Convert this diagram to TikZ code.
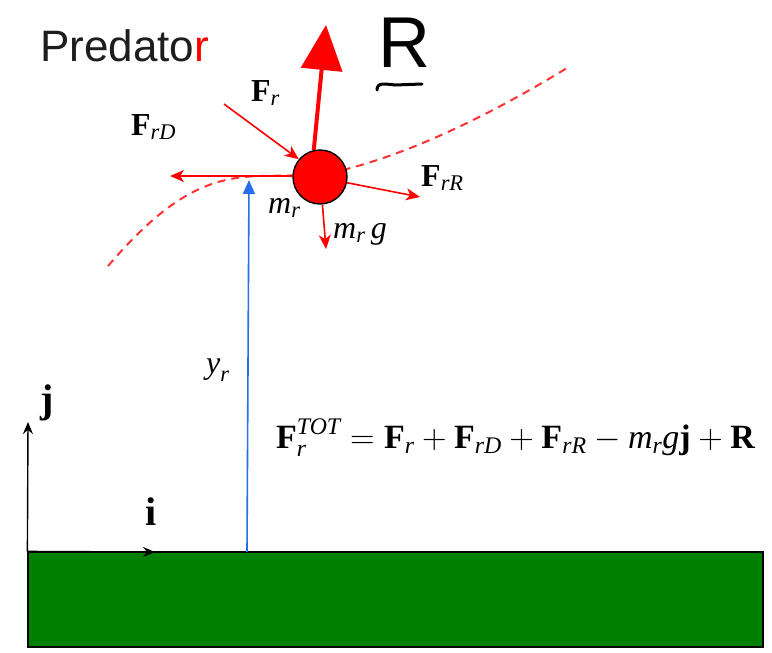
\documentclass[tikz,border=0pt]{standalone}
\usepackage{fix-cm}
\usepackage{amsmath}
\usepackage{fontspec}
\setmainfont{Liberation Serif}
\newfontfamily\arialfont{Liberation Sans}
\usetikzlibrary{arrows.meta}
\definecolor{groundgreen}{RGB}{0,128,0}
\definecolor{blueline}{RGB}{40,110,235}
\definecolor{dashred}{RGB}{255,50,50}
\definecolor{titlegray}{RGB}{30,30,30}
\begin{document}
\begin{tikzpicture}[x=1pt,y=-1pt,
  lbl/.style={inner sep=0pt, anchor=base west, font=\fontsize{32}{36}\selectfont},
  redarrow/.style={red, line width=1.6pt, -{Stealth[length=14pt,width=12pt,inset=4pt]}},
  axisarrow/.style={black, line width=1.4pt, -{Stealth[length=12pt,width=10pt,inset=4pt]}}
]
\useasboundingbox (0,0) rectangle (772,653);
% ground
\node[draw=black, line width=1.2pt, fill=groundgreen, minimum width=735pt, minimum height=95pt, inner sep=0pt] (ground) at (395.5,599.5) {};
% axes
\coordinate (O) at (ground.north west);
\coordinate (jtip) at (28,422);
\coordinate (itip) at (155,552);
\draw[axisarrow] (O) -- (jtip);
\draw[axisarrow] (O) -- (itip);
\node[inner sep=0pt, anchor=base west, font=\fontsize{40}{44}\selectfont] (jlbl) at (40,412) {\textbf{j}};
\node[inner sep=0pt, anchor=base west, font=\fontsize{40}{44}\selectfont] (ilbl) at (145,525) {\textbf{i}};
% height arrow
\coordinate (ybase) at (247,552);
\coordinate (ytip) at (249,180);
\draw[blueline, line width=1.6pt, -{Triangle[length=14pt,width=12pt]}] (ybase) -- (ytip);
\node[lbl] (ylbl) at (206,373) {$\textit{y}_{\textit{r}}$};
% trajectory
\draw[dashred, line width=2pt, dash pattern=on 8pt off 6pt] (108,266) .. controls (165,200) and (205,177) .. (260,176) -- (320,175) .. controls (400,160) and (490,115) .. (567,68);
% predator body
\node[circle, draw=black, line width=1.4pt, fill=red, minimum size=54pt, inner sep=0pt] (pred) at (320,177) {};
% forces
\coordinate (Rtip) at (326,25);
\draw[red, line width=4pt, -{Triangle[length=45pt,width=41pt]}] (pred.103) -- (Rtip);
\coordinate (Frs) at (224,104);
\draw[redarrow] (Frs) -- (pred.140);
\coordinate (FrDtip) at (170,176);
\draw[redarrow] (pred.178) -- (FrDtip);
\coordinate (FrRtip) at (420,197);
\draw[redarrow] (pred.-12) -- (FrRtip);
\coordinate (mgtip) at (326,249);
\draw[redarrow] (pred.-85) -- (mgtip);
% labels
\node[lbl] (lFr) at (251,101) {$\textbf{F}_{\textit{r}}$};
\node[lbl] (lFrD) at (131,135) {$\textbf{F}_{\textit{rD}}$};
\node[lbl] (lFrR) at (421,186) {$\textbf{F}_{\textit{rR}}$};
\node[lbl] (lmr) at (268,213) {$\textit{m}_{\textit{r}}$};
\node[lbl] (lmg) at (333,238) {$\textit{m}_{\textit{r}}\,\textit{g}$};
% title
\node[inner sep=0pt, anchor=base west, font=\arialfont\fontsize{44}{50}\selectfont, text=titlegray] (title) at (40,61) {Predato\textcolor{red}{r}};
% handwritten R
\node[inner sep=0pt, anchor=base west, font=\arialfont\fontsize{72}{80}\selectfont] (Rlbl) at (378,67) {R};
\draw[line width=3pt, line cap=round] (377,90) .. controls (377,82) and (385,84) .. (395,85) -- (422,84);
% equation
\node[inner sep=0pt, anchor=base west, font=\fontsize{34}{40}\selectfont] (eq) at (276,448) {$\textbf{F}_{\textit{r}}^{\textit{TOT}} = \textbf{F}_{\textit{r}} + \textbf{F}_{\textit{rD}} + \textbf{F}_{\textit{rR}} - \textit{m}_{\textit{r}}\textit{g}\textbf{j} + \textbf{R}$};
\end{tikzpicture}
\end{document}
